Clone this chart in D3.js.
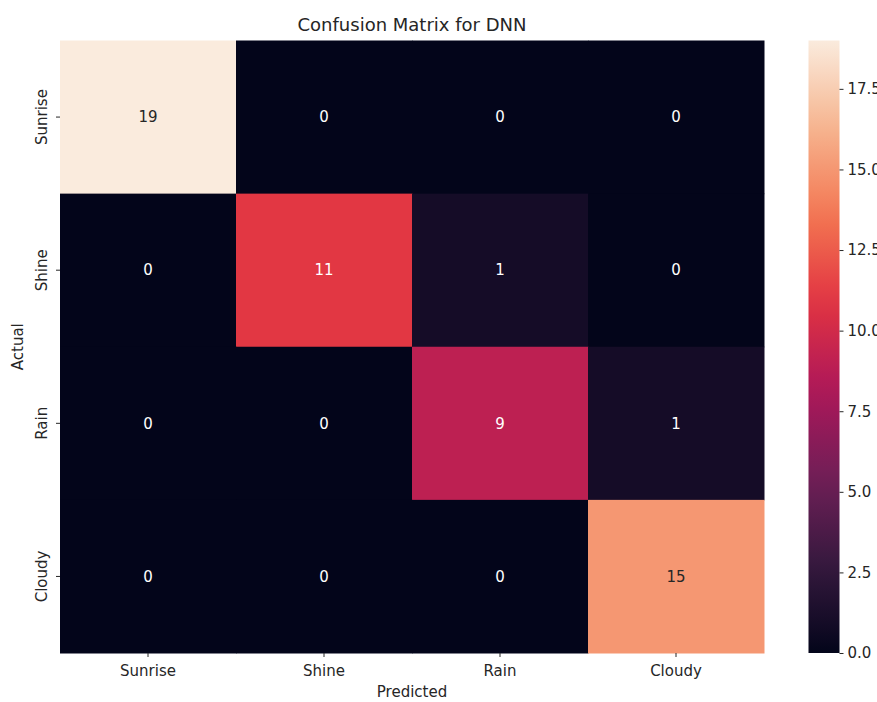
<!DOCTYPE html>
<html lang="en">
<head>
    <meta charset="UTF-8">
    <title>Confusion Matrix for DNN</title>
    <style>
        body { margin: 0; background: #fff; }
        text { font-family: "DejaVu Sans", sans-serif; fill: #262626; }
    </style>
    <script src="https://d3js.org/d3.v7.min.js"></script>
</head>
<body>
<svg id="chart" width="877" height="702"></svg>
<script>
    // data
    const classes = ["Sunrise", "Shine", "Rain", "Cloudy"];
    const matrix = [
        [19, 0, 0, 0],
        [0, 11, 1, 0],
        [0, 0, 9, 1],
        [0, 0, 0, 15]
    ];
    const cbarTicks = [0, 2.5, 5, 7.5, 10, 12.5, 15, 17.5];

    // rocket colormap stops (seaborn)
    const rocketStops = ["#03051a", "#35193e", "#701f57", "#ad1759", "#e13342", "#f37651", "#f6b48f", "#faebdd"];
    const rocket = d3.scaleLinear()
        .domain(d3.range(rocketStops.length).map(i => i / (rocketStops.length - 1)))
        .range(rocketStops)
        .interpolate(d3.interpolateRgb);

    const svg = d3.select("#chart");
    const plotLeft = 60, plotTop = 40.5, plotRight = 764, plotBottom = 653;

    const vmax = d3.max(matrix.flat());
    const color = v => rocket(v / vmax);

    const x = d3.scaleBand().domain(classes).range([plotLeft, plotRight]);
    const y = d3.scaleBand().domain(classes).range([plotTop, plotBottom]);

    const cells = [];
    matrix.forEach((row, i) => row.forEach((v, j) => cells.push({ actual: classes[i], pred: classes[j], v: v })));

    svg.append("g").selectAll("rect")
        .data(cells)
        .join("rect")
        .attr("x", d => x(d.pred))
        .attr("y", d => y(d.actual))
        .attr("width", x.bandwidth() + 0.5)
        .attr("height", y.bandwidth() + 0.5)
        .attr("fill", d => color(d.v));

    svg.append("g").selectAll("text")
        .data(cells)
        .join("text")
        .attr("x", d => x(d.pred) + x.bandwidth() / 2)
        .attr("y", d => y(d.actual) + y.bandwidth() / 2)
        .attr("text-anchor", "middle")
        .attr("dy", "0.35em")
        .style("font-size", "15px")
        .style("fill", d => d.v / vmax > 0.6 ? "#262626" : "#ffffff")
        .text(d => d.v);

    // axes
    const xAxis = svg.append("g")
        .attr("transform", `translate(0,${plotBottom})`)
        .call(d3.axisBottom(x).tickSize(4).tickPadding(8));
    xAxis.select(".domain").remove();
    xAxis.selectAll("text").style("font-size", "15px").attr("fill", "#262626");
    xAxis.selectAll("line").attr("stroke", "#262626");

    const yAxis = svg.append("g")
        .attr("transform", `translate(${plotLeft},0)`)
        .call(d3.axisLeft(y).tickSize(4).tickPadding(5));
    yAxis.select(".domain").remove();
    yAxis.selectAll("line").attr("stroke", "#262626");
    yAxis.selectAll(".tick text")
        .style("font-size", "15px")
        .attr("fill", "#262626")
        .attr("text-anchor", "middle")
        .attr("x", 0)
        .attr("y", 0)
        .attr("dy", 0)
        .attr("transform", "translate(-13,0) rotate(-90)");

    svg.append("text")
        .attr("x", (plotLeft + plotRight) / 2)
        .attr("y", 31)
        .attr("text-anchor", "middle")
        .style("font-size", "18px")
        .text("Confusion Matrix for DNN");

    svg.append("text")
        .attr("x", (plotLeft + plotRight) / 2)
        .attr("y", 697)
        .attr("text-anchor", "middle")
        .style("font-size", "15px")
        .text("Predicted");

    svg.append("text")
        .attr("transform", `translate(23,${(plotTop + plotBottom) / 2}) rotate(-90)`)
        .attr("text-anchor", "middle")
        .style("font-size", "15px")
        .text("Actual");

    // colorbar
    const cbX = 808.5, cbW = 31;
    const defs = svg.append("defs");
    const grad = defs.append("linearGradient")
        .attr("id", "cbgrad")
        .attr("x1", 0).attr("y1", 1).attr("x2", 0).attr("y2", 0);
    d3.range(0, 1.0001, 0.05).forEach(t => {
        grad.append("stop").attr("offset", t).attr("stop-color", rocket(t));
    });
    svg.append("rect")
        .attr("x", cbX).attr("y", plotTop)
        .attr("width", cbW).attr("height", plotBottom - plotTop)
        .attr("fill", "url(#cbgrad)");

    const cScale = d3.scaleLinear().domain([0, vmax]).range([plotBottom, plotTop]);
    const cAxis = svg.append("g")
        .attr("transform", `translate(${cbX + cbW},0)`)
        .call(d3.axisRight(cScale).tickValues(cbarTicks).tickFormat(d3.format(".1f")).tickSize(4).tickPadding(4));
    cAxis.select(".domain").remove();
    cAxis.selectAll("line").attr("stroke", "#262626");
    cAxis.selectAll("text").style("font-size", "15px").attr("fill", "#262626");
</script>
</body>
</html>
